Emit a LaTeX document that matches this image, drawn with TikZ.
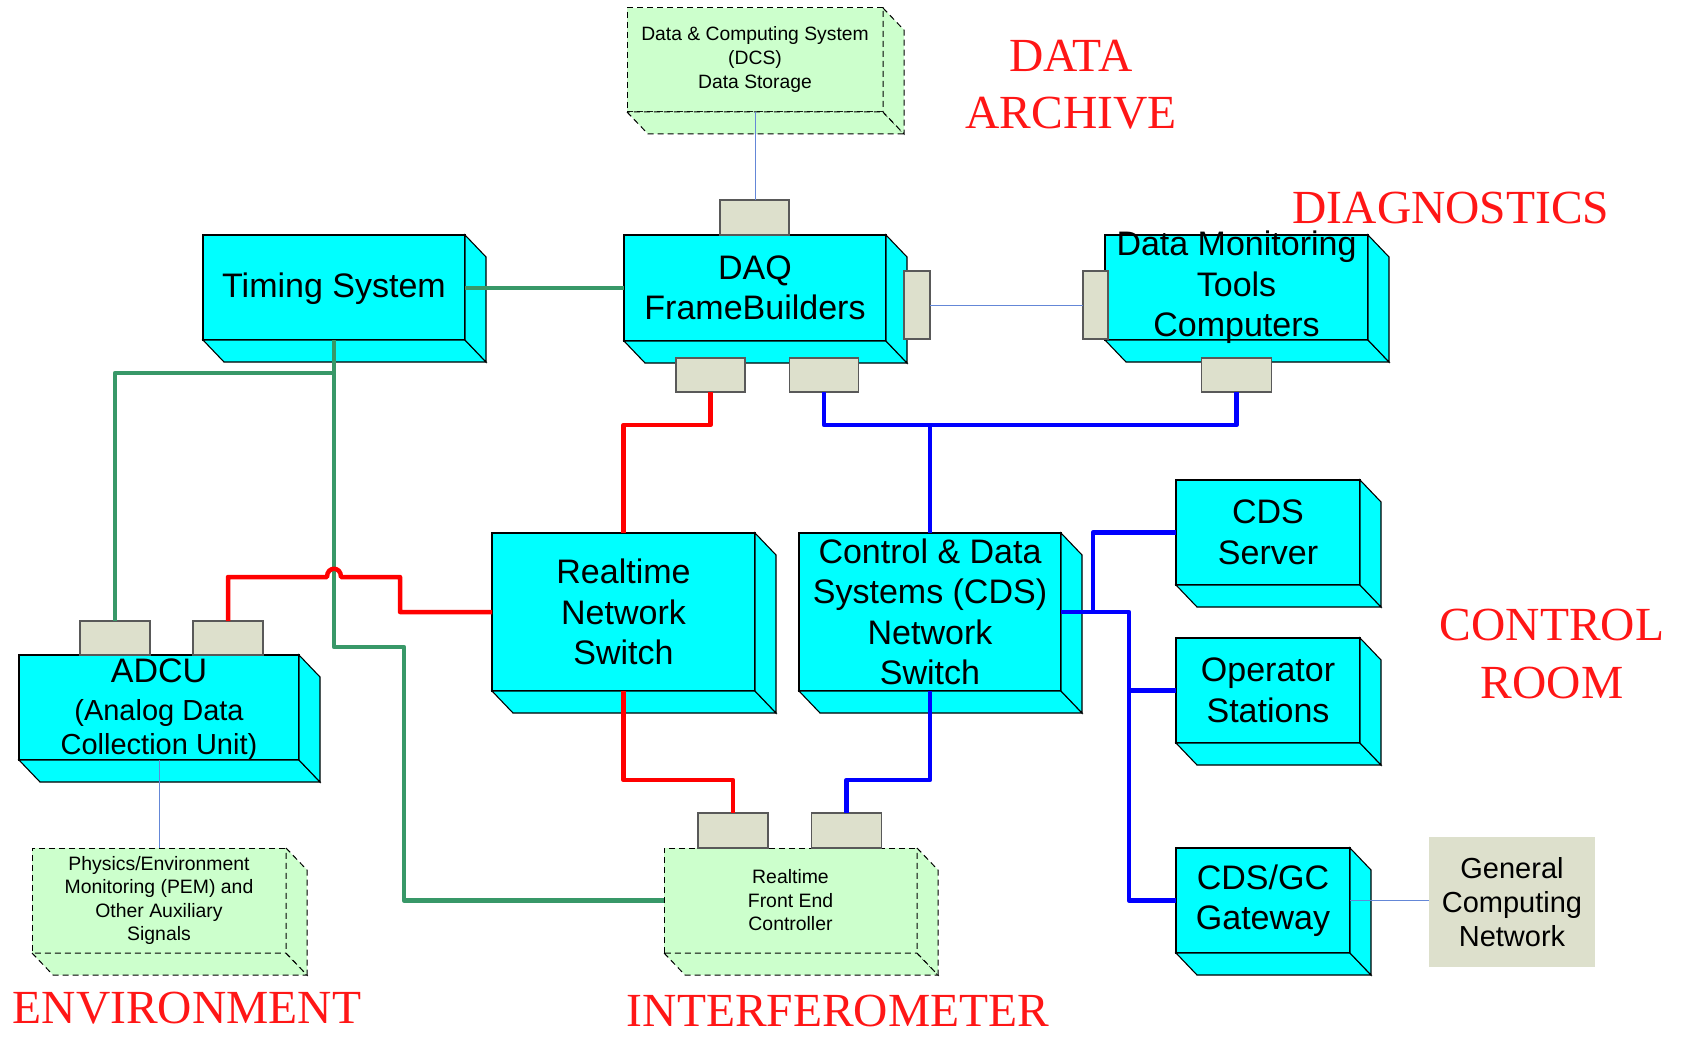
\documentclass[tikz,border=0pt]{standalone}
\usepackage{fontspec}
\setmainfont{Liberation Sans}
\newfontfamily\seriffont{Liberation Serif}
\usetikzlibrary{calc}
\definecolor{boxcyan}{RGB}{0,255,255}
\definecolor{dashgreen}{RGB}{204,255,204}
\definecolor{portgray}{RGB}{221,224,204}
\definecolor{linegreen}{RGB}{56,152,104}
\definecolor{thinblue}{RGB}{100,135,215}
\definecolor{labelred}{RGB}{255,22,22}
\tikzset{
 cube/.style={draw=black, fill=boxcyan, line width=1.1pt, inner sep=0pt, outer sep=0pt, align=center},
 cubeface/.style={draw=black, fill=boxcyan, line width=1.1pt},
 dbox/.style={draw=black, fill=dashgreen, line width=1pt, dash pattern=on 6pt off 4pt, inner sep=0pt, outer sep=0pt, align=center},
 dface/.style={draw=black, fill=dashgreen, line width=1pt, dash pattern=on 6pt off 4pt},
 port/.style={draw=black!65, fill=portgray, line width=1.1pt, inner sep=0pt, outer sep=0pt},
 gcnbox/.style={fill=portgray, inner sep=0pt, outer sep=0pt, align=center},
 boxtext/.style={inner sep=0pt, align=center},
 bigtext/.style={font=\fontsize{34}{40.5}\selectfont},
 midtext/.style={font=\fontsize{29}{34}\selectfont},
 smalltext/.style={font=\fontsize{19.4}{23.5}\selectfont},
 gline/.style={draw=linegreen, line width=4.5pt, line join=round},
 rline/.style={draw=red, line width=4.5pt, line join=round},
 bline/.style={draw=blue, line width=4.5pt, line join=round},
 tline/.style={draw=thinblue, line width=1pt},
 redlabel/.style={text=labelred, font=\seriffont\fontsize{47.5}{57}\selectfont, inner sep=0pt, anchor=base},
}
\newcommand\boxdepth[2]{%
 \path[#2] (#1.south west) -- ([shift={(21,22)}]#1.south west) -- ([shift={(21,22)}]#1.south east) -- (#1.south east) -- cycle;
 \path[#2] (#1.north east) -- ([shift={(21,22)}]#1.north east) -- ([shift={(21,22)}]#1.south east) -- (#1.south east) -- cycle;
}
\begin{document}
\begin{tikzpicture}[x=1pt,y=-1pt]
\useasboundingbox (0,0) rectangle (1684,1038);
% ---------- boxes ----------
\node[dbox, minimum width=256, minimum height=104, font=\fontsize{19.3}{24}\selectfont] (dcs) at (755,60) {Data \& Computing System\\(DCS)\\Data Storage};
\boxdepth{dcs}{dface}
\node[cube, minimum width=262, minimum height=105] (timing) at (334,287.5) {};
\boxdepth{timing}{cubeface}
\node[boxtext, bigtext] (timingtext) at (334,289) {Timing System};
\node[cube, minimum width=262, minimum height=106, bigtext] (daq) at (755,288) {DAQ\\FrameBuilders};
\boxdepth{daq}{cubeface}
\node[cube, minimum width=263, minimum height=105] (dmt) at (1236.5,287.5) {};
\boxdepth{dmt}{cubeface}
\node[boxtext, bigtext] (dmttext) at (dmt.center) {Data Monitoring\\Tools\\Computers};
\node[cube, minimum width=263, minimum height=158, bigtext] (rns) at (623.5,612) {Realtime\\Network\\Switch};
\boxdepth{rns}{cubeface}
\node[cube, minimum width=262, minimum height=158] (cds) at (930,612) {};
\boxdepth{cds}{cubeface}
\node[boxtext, bigtext] (cdstext) at (cds.center) {Control \& Data\\Systems (CDS)\\Network\\Switch};
\node[cube, minimum width=184, minimum height=105, bigtext] (server) at (1268,532.5) {CDS\\Server};
\boxdepth{server}{cubeface}
\node[cube, minimum width=184, minimum height=105, bigtext] (oper) at (1268,690.5) {Operator\\Stations};
\boxdepth{oper}{cubeface}
\node[cube, minimum width=174, minimum height=105, bigtext] (gw) at (1263,900.5) {CDS/GC\\Gateway};
\boxdepth{gw}{cubeface}
\node[gcnbox, minimum width=166, minimum height=130, midtext] (gcn) at (1512,902) {General\\Computing\\Network};
\node[cube, minimum width=280, minimum height=105] (adcu) at (159,707.5) {};
\boxdepth{adcu}{cubeface}
\node[boxtext, midtext] (adcutext) at (159,710) {{\fontsize{34}{39}\selectfont ADCU}\\[4pt](Analog Data\\Collection Unit)};
\node[dbox, minimum width=254, minimum height=105, smalltext] (pem) at (159,900.5) {Physics/Environment\\Monitoring (PEM) and\\Other Auxiliary\\Signals};
\boxdepth{pem}{dface}
\node[dbox, minimum width=253, minimum height=105, smalltext] (rfe) at (790.5,900.5) {Realtime\\Front End\\Controller};
\boxdepth{rfe}{dface}
% ---------- ports ----------
\node[port, minimum width=69, minimum height=35] (daqtop) at (754.5,217.5) {};
\node[port, minimum width=26, minimum height=68] (daqright) at (917,305) {};
\node[port, minimum width=69, minimum height=34] (daqb1) at (710.5,375) {};
\node[port, minimum width=69, minimum height=34] (daqb2) at (824,375) {};
\node[port, minimum width=25, minimum height=68] (dmtleft) at (1095.5,305) {};
\node[port, minimum width=70, minimum height=34] (dmtb) at (1236.5,375) {};
\node[port, minimum width=70, minimum height=34] (adcup1) at (115,638) {};
\node[port, minimum width=70, minimum height=34] (adcup2) at (228,638) {};
\node[port, minimum width=70, minimum height=35] (rfep1) at (733,830.5) {};
\node[port, minimum width=70, minimum height=35] (rfep2) at (846.5,830.5) {};
% ---------- junction coordinates ----------
\coordinate (gb) at (334,373);
\coordinate (g1) at (334,647);
\coordinate (g2) at (404,647);
\coordinate (rj) at (623.5,425);
\coordinate (rk) at (623.5,780);
\coordinate (ra) at (228,577);
\coordinate (ha) at (327,577);
\coordinate (hb) at (341,577);
\coordinate (rb) at (400,577);
\coordinate (bj) at (930,425);
\coordinate (bk) at (930,780);
\coordinate (bm) at (1129,612);
\coordinate (bs) at (1093,612);
% ---------- green (timing) ----------
\draw[gline] (timing.east |- daq.west) -- (daq.west);
\draw[gline] (timing.south) -- (g1) -- (g2) |- (rfe.west);
\draw[gline] (gb) -| (adcup1.north);
% ---------- red (realtime) ----------
\draw[rline] (daqb1.south) |- (rj) -- (rns.north);
\draw[rline] (rns.south) -- (rk) -| (rfep1.north);
\draw[rline] (adcup2.north) -- (ra) -- (ha) .. controls +(0,-11) and +(0,-11) .. (hb) -- (rb) |- (rns.west);
% ---------- blue (CDS) ----------
\draw[bline] (daqb2.south) |- (bj) -| (dmtb.south);
\draw[bline] (bj) -- (cds.north);
\draw[bline] (cds.south) -- (bk) -| (rfep2.north);
\draw[bline] (cds.east) -- (bm) |- (gw.west);
\draw[bline] (bm |- oper.west) -- (oper.west);
\draw[bline] (bs) |- (server.west);
% ---------- thin links ----------
\draw[tline] (dcs.south) -- (dcs.south |- daqtop.north);
\draw[tline] (daqright.east) -- (dmtleft.west);
\draw[tline] (adcu.south) -- (pem.north);
\draw[tline] (gw.east) -- (gw.east -| gcn.west);
% ---------- area labels ----------
\node[redlabel] (lbdata) at (1071,72) {DATA};
\node[redlabel] (lbarch) at (1071,129) {ARCHIVE};
\node[redlabel] (lbdiag) at (1451,223) {DIAGNOSTICS};
\node[redlabel] (lbcontrol) at (1552,640) {CONTROL};
\node[redlabel] (lbroom) at (1552,698) {ROOM};
\node[redlabel] (lbenv) at (187,1023) {ENVIRONMENT};
\node[redlabel] (lbifo) at (838,1026) {INTERFEROMETER};
\end{tikzpicture}
\end{document}
